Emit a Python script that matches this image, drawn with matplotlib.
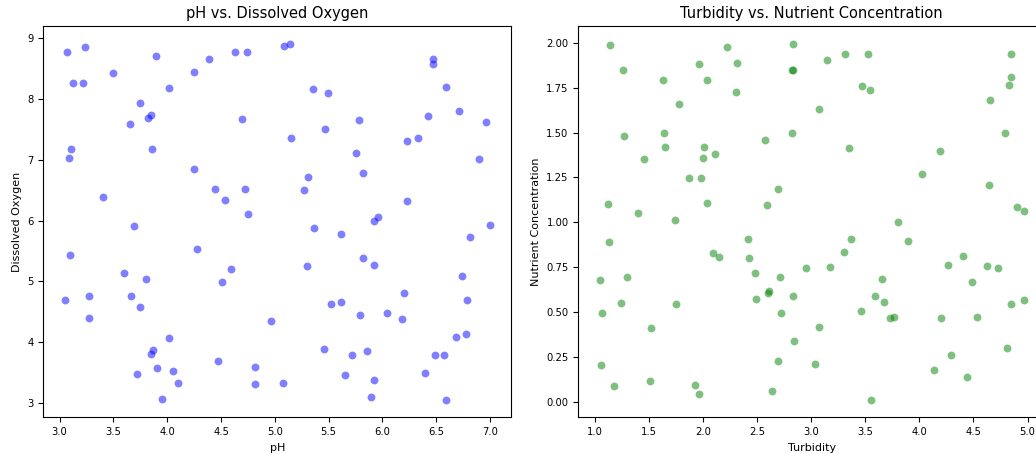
import matplotlib
matplotlib.use("Agg")
import matplotlib.pyplot as plt

ph = [3.071, 3.235, 3.892, 4.385, 4.633, 4.738, 3.499, 4.245, 3.127, 3.217,
      4.016, 3.743, 3.852, 3.824, 3.654, 4.698, 3.102, 3.087, 3.861, 4.245,
      4.444, 4.722, 4.537, 3.400, 4.747, 3.688, 5.082, 5.144, 6.470, 6.467,
      5.357, 5.491, 6.590, 5.785, 6.426, 6.711, 6.962, 5.466, 5.150, 6.228,
      6.330, 5.751, 6.900, 5.308, 5.819, 5.274, 6.228, 5.958, 5.924, 7.000,
      5.367, 3.096, 4.279, 3.598, 3.802, 4.589, 4.509, 3.046, 3.276, 3.663,
      3.743, 3.270, 4.961, 4.016, 3.871, 3.846, 4.471, 3.908, 4.056, 4.815,
      3.719, 4.097, 4.815, 3.951, 5.079, 5.612, 6.810, 5.819, 5.924, 5.302,
      6.736, 6.197, 6.789, 5.522, 5.612, 5.794, 6.039, 6.178, 6.680, 6.779,
      5.457, 5.720, 5.859, 6.491, 6.572, 5.655, 5.924, 6.392, 5.890, 6.590]
dissolved_oxygen = [8.771, 8.848, 8.695, 8.656, 8.771, 8.771, 8.427, 8.443, 8.252, 8.263,
                    8.175, 7.930, 7.727, 7.678, 7.591, 7.662, 7.181, 7.028, 7.181, 6.842,
                    6.525, 6.525, 6.345, 6.394, 6.104, 5.908, 8.869, 8.897, 8.645, 8.574,
                    8.159, 8.093, 8.186, 7.651, 7.716, 7.793, 7.623, 7.498, 7.356, 7.307,
                    7.356, 7.104, 7.017, 6.711, 6.787, 6.509, 6.318, 6.055, 5.984, 5.919,
                    5.869, 5.438, 5.525, 5.132, 5.033, 5.208, 4.995, 4.689, 4.755, 4.755,
                    4.574, 4.394, 4.345, 4.077, 3.875, 3.809, 3.700, 3.580, 3.536, 3.596,
                    3.481, 3.328, 3.318, 3.077, 3.339, 5.782, 5.727, 5.378, 5.274, 5.252,
                    5.082, 4.804, 4.700, 4.623, 4.662, 4.449, 4.476, 4.383, 4.088, 4.143,
                    3.891, 3.787, 3.864, 3.787, 3.787, 3.470, 3.383, 3.492, 3.099, 3.061]

turbidity = [1.139, 2.222, 2.835, 1.262, 1.961, 2.315, 2.820, 2.830, 1.634, 2.038,
             2.305, 1.782, 1.268, 1.641, 2.825, 2.573, 1.650, 2.013, 2.111, 2.001,
             1.456, 1.877, 1.985, 2.696, 1.126, 2.038, 2.592, 1.397, 1.739,
             3.149, 3.312, 3.524, 4.848, 3.475, 3.549, 4.848, 4.829, 3.075, 4.649,
             4.789, 3.352, 4.192, 4.029, 4.641, 4.903, 4.968, 3.801,
             1.130, 2.419, 2.093, 2.151, 2.428, 2.958, 1.046, 1.299, 2.484, 2.715,
             2.607, 2.598, 2.829, 2.493, 1.247, 1.751, 1.065, 2.724, 1.524, 2.838,
             2.696, 1.056, 1.179, 1.514, 1.930, 1.961, 2.641, 3.041,
             3.370, 3.303, 3.900, 3.179, 3.653, 3.589, 3.672, 3.459, 3.727, 3.767,
             3.072, 4.266, 4.408, 4.626, 4.724, 4.488, 4.848, 4.968, 4.201, 4.537,
             4.814, 4.291, 4.137, 4.438, 3.558]
nutrient = [1.987, 1.974, 1.993, 1.846, 1.883, 1.887, 1.850, 1.848, 1.793, 1.793,
            1.724, 1.659, 1.483, 1.500, 1.500, 1.461, 1.422, 1.422, 1.380, 1.361,
            1.354, 1.246, 1.246, 1.187, 1.104, 1.109, 1.096, 1.052, 1.013,
            1.906, 1.939, 1.935, 1.935, 1.757, 1.737, 1.809, 1.763, 1.630, 1.681,
            1.500, 1.413, 1.400, 1.267, 1.206, 1.087, 1.061, 1.004,
            0.893, 0.909, 0.828, 0.809, 0.802, 0.744, 0.681, 0.698, 0.719, 0.698,
            0.620, 0.606, 0.587, 0.574, 0.548, 0.543, 0.496, 0.496, 0.409, 0.341,
            0.230, 0.207, 0.091, 0.117, 0.094, 0.046, 0.061, 0.211,
            0.906, 0.837, 0.896, 0.750, 0.685, 0.591, 0.556, 0.504, 0.465, 0.474,
            0.419, 0.763, 0.815, 0.759, 0.744, 0.669, 0.544, 0.565, 0.465, 0.474,
            0.302, 0.263, 0.178, 0.139, 0.013]

W, H = 1036, 454
fig = plt.figure(figsize=(W / 100, H / 100), dpi=100)

ax1 = fig.add_axes([43.3 / W, (H - 417.3) / H, 468 / W, 391 / H])
ax2 = fig.add_axes([578.3 / W, (H - 417.3) / H, 467 / W, 391 / H])

TICK = 7.2
LAB = 8
TITLE = 10.5

ax1.scatter(ph, dissolved_oxygen, color='blue', alpha=0.5, s=32, linewidths=0)
ax1.set_title('pH vs. Dissolved Oxygen', fontsize=TITLE)
ax1.set_xlabel('pH', fontsize=LAB)
ax1.set_ylabel('Dissolved Oxygen', fontsize=LAB)
ax1.tick_params(labelsize=TICK)

ax2.scatter(turbidity, nutrient, color='green', alpha=0.5, s=32, linewidths=0)
ax2.set_title('Turbidity vs. Nutrient Concentration', fontsize=TITLE)
ax2.set_xlabel('Turbidity', fontsize=LAB)
ax2.set_ylabel('Nutrient Concentration', fontsize=LAB)
ax2.tick_params(labelsize=TICK)

fig.savefig('out.png', dpi=100)
